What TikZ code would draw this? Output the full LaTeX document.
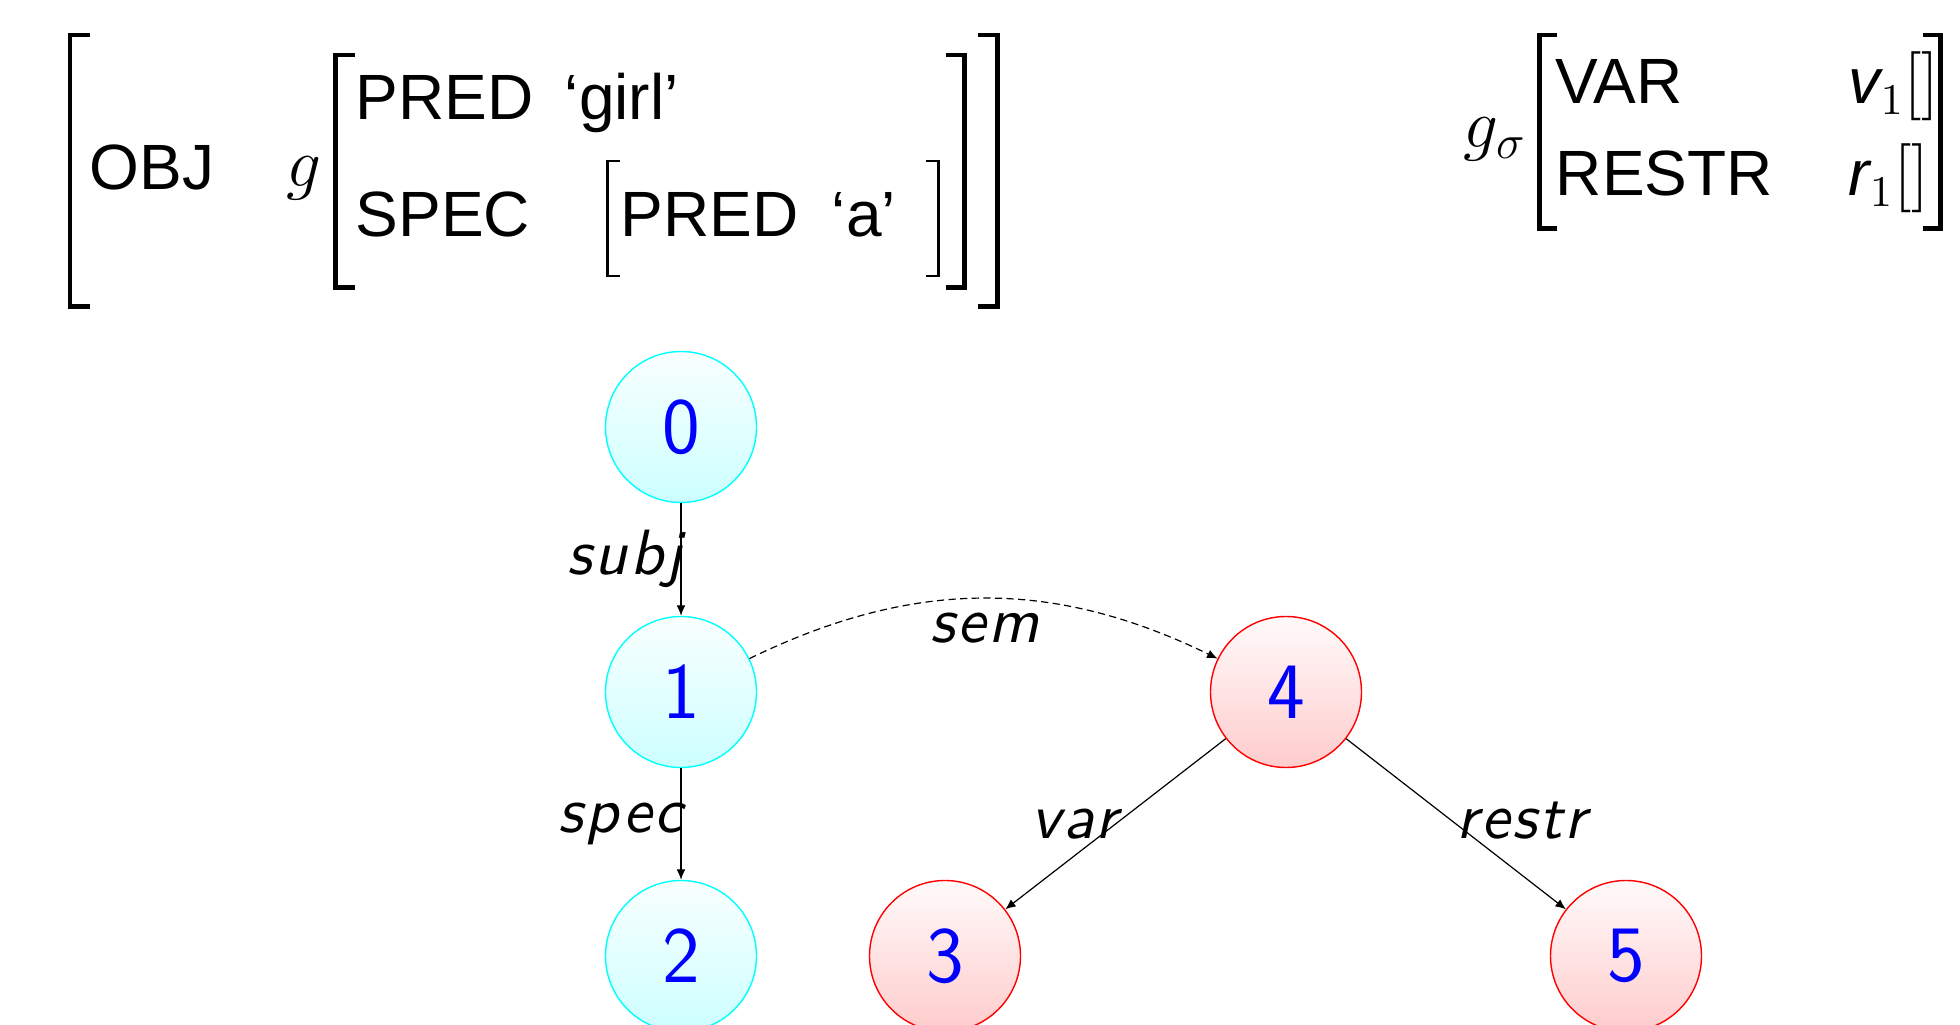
\documentclass[tikz,border=0pt]{standalone}
\usepackage{fontspec}
\newfontfamily\avmfont{Liberation Sans}
\newfontfamily\lblfont{lmsans10-oblique.otf}[LetterSpace=4]
\usetikzlibrary{arrows.meta}
\definecolor{aqua}{RGB}{0,255,255}
\definecolor{pure red}{RGB}{255,0,0}
\begin{document}
\begin{tikzpicture}[x=0.25pt,y=-0.25pt,
  avm/.style={font=\avmfont\fontsize{16}{19}\selectfont, inner sep=0pt, anchor=base west},
  mth/.style={font=\fontsize{17.28}{21}\selectfont, inner sep=0pt, anchor=base west},
  brk/.style={line width=1.1pt, line cap=butt, line join=miter},
  brkthin/.style={line width=0.6pt, line cap=butt, line join=miter},
  state/.style={circle, minimum size=37.75pt, inner sep=0pt, line width=0.35pt,
    text=blue, font=\sffamily\fontsize{20}{24}\selectfont},
  fsnode/.style={state, draw=aqua, top color=aqua!2, bottom color=aqua!20},
  semnode/.style={state, draw=pure red, top color=pure red!2, bottom color=pure red!20},
  edge/.style={line width=0.3pt, -{Latex[length=2.6pt,width=2.2pt]}},
  semedge/.style={edge, dash pattern=on 1.8pt off 1.1pt},
  lbl/.style={font=\lblfont\fontsize{16}{19}\selectfont, inner sep=0pt}
]
\useasboundingbox (0,0) rectangle (1960,1025);
\clip (0,0) rectangle (1960,1025);

% f-structure: outer brackets
\draw[brk] (90,35.3) -- (69.7,35.3) -- (69.7,306.5) -- (90,306.5);
\draw[brk] (978,35.3) -- (997.5,35.3) -- (997.5,306.5) -- (978,306.5);
\node[avm] (obj) at (89,190) {OBJ};
\node[mth] (gf) at (286,187) {$g$};
% value of OBJ
\draw[brk] (355,55.3) -- (335.3,55.3) -- (335.3,287.5) -- (355,287.5);
\draw[brk] (945.7,55.3) -- (964.5,55.3) -- (964.5,287.5) -- (945.7,287.5);
\node[avm] (pred1) at (355,120) {PRED};
\node[avm] (girl) at (564,120) {‘girl’};
\node[avm] (spec) at (355,236.7) {SPEC};
% value of SPEC
\draw[brkthin] (620,161.3) -- (607.3,161.3) -- (607.3,276.3) -- (620,276.3);
\draw[brkthin] (926,161.3) -- (938.3,161.3) -- (938.3,276.3) -- (926,276.3);
\node[avm] (pred2) at (620,236.7) {PRED};
\node[avm] (a) at (831,236.7) {‘a’};

% s-structure
\node[mth] (gs) at (1463,148) {$g_\sigma$};
\draw[brk] (1557.3,35.3) -- (1539.5,35.3) -- (1539.5,228.7) -- (1557.3,228.7);
\draw[brk] (1923,35.3) -- (1940.5,35.3) -- (1940.5,228.7) -- (1923,228.7);
\node[avm] (var) at (1555,104) {VAR};
\node[avm] (restr) at (1555,196) {RESTR};
\node[avm] (v1) at (1848,104) {\itshape v\upshape$_1[]$};
\node[avm] (r1) at (1848,196) {\itshape r\upshape$_1[]$};

% graph
\node[fsnode] (n0) at (681,427) {0};
\node[fsnode] (n1) at (681,692) {1};
\node[fsnode] (n2) at (681,956) {2};
\node[semnode] (n4) at (1286,692) {4};
\node[semnode] (n3) at (945,956) {3};
\node[semnode] (n5) at (1626,956) {5};

\draw[edge] (n0) -- node[lbl, anchor=mid east, xshift=0.6pt, yshift=-1.5pt] (lsubj) {subj} (n1);
\draw[edge] (n1) -- node[lbl, anchor=mid east, xshift=0.6pt] (lspec) {spec} (n2);
\draw[semedge] (n1) to[bend left=26] node[lbl, anchor=mid, xshift=0.3pt, yshift=-8.75pt] (lsem) {sem} (n4);
\draw[edge] (n4) -- node[lbl, anchor=mid east, xshift=0.6pt, yshift=-1.5pt] (lvar) {var} (n3);
\draw[edge] (n4) -- node[lbl, anchor=mid west, yshift=-1.5pt] (lrestr) {restr} (n5);
\end{tikzpicture}
\end{document}
